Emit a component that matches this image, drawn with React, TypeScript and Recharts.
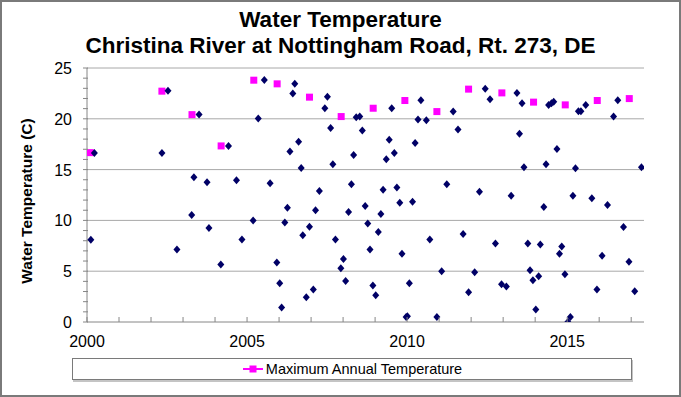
import React from 'react';
import { ScatterChart, Scatter, XAxis, YAxis, CartesianGrid, Legend } from 'recharts';

const FONT = '"Liberation Sans", Arial, sans-serif';

const titleLines = ['Water Temperature', 'Christina River at Nottingham Road, Rt. 273, DE'];
const yAxisTitle = 'Water Temperature (C)';
const maxSeriesName = 'Maximum Annual Temperature';

const xTicks = [2000, 2001, 2002, 2003, 2004, 2005, 2006, 2007, 2008, 2009, 2010, 2011, 2012, 2013, 2014, 2015, 2016, 2017];
const xLabelled = [2000, 2005, 2010, 2015];
const yTicks = [0, 1, 2, 3, 4, 5, 6, 7, 8, 9, 10, 11, 12, 13, 14, 15, 16, 17, 18, 19, 20, 21, 22, 23, 24, 25];
const yLabelled = [0, 5, 10, 15, 20, 25];
const yGrid = [5, 10, 15, 20, 25];

const maxX = [2000.1, 2002.34, 2003.28, 2004.19, 2005.21, 2005.94, 2006.95, 2007.94, 2008.94, 2009.93, 2010.93, 2011.92, 2012.96, 2013.95, 2014.94, 2015.94, 2016.94];
const maxY = [16.67, 22.72, 20.41, 17.33, 23.8, 23.44, 22.13, 20.22, 21.04, 21.8, 20.71, 22.92, 22.55, 21.64, 21.37, 21.8, 21.99];

const measX = [
  2000.23, 2000.12, 2002.53, 2002.34, 2002.81, 2003.5, 2003.34, 2003.27, 2004.42, 2003.75,
  2003.81, 2004.18, 2004.67, 2004.84, 2005.19, 2005.54, 2005.35, 2006.49, 2006.43, 2005.72,
  2005.93, 2006.02, 2006.08, 2006.18, 2006.26, 2006.34, 2006.61, 2006.69, 2006.74, 2006.95,
  2006.85, 2007.07, 2007.14, 2007.51, 2007.43, 2007.61, 2007.68, 2007.26, 2007.76, 2008.01,
  2007.93, 2008.08, 2008.41, 2008.52, 2008.6, 2008.33, 2008.26, 2008.17, 2008.69, 2008.77,
  2008.84, 2008.93, 2009.02, 2009.52, 2009.1, 2009.18, 2009.25, 2009.35, 2009.44, 2009.6,
  2009.68, 2009.77, 2009.84, 2010.07, 2009.97, 2010.01, 2010.43, 2010.34, 2010.6, 2010.25,
  2010.17, 2010.71, 2011.44, 2011.59, 2011.24, 2011.08, 2010.93, 2011.75, 2011.92, 2012.11,
  2012.26, 2012.44, 2012.59, 2012.76, 2012.95, 2013.1, 2013.25, 2013.43, 2013.59, 2013.51,
  2013.65, 2013.77, 2013.84, 2013.93, 2014.11, 2014.02, 2014.16, 2014.27, 2014.34, 2014.42,
  2014.51, 2014.58, 2014.68, 2014.76, 2014.83, 2014.93, 2015.02, 2015.1, 2015.18, 2015.26,
  2015.35, 2015.43, 2015.58, 2015.77, 2015.93, 2016.09, 2016.26, 2016.45, 2016.58, 2016.76,
  2016.93, 2017.11, 2017.32,
];
const measY = [
  16.64, 8.09, 22.75, 16.64, 7.14, 20.42, 14.24, 10.52, 17.33, 13.75,
  9.24, 5.66, 13.94, 8.12, 10.0, 23.83, 20.02, 23.44, 22.49, 13.65,
  5.86, 3.82, 1.42, 9.8, 11.24, 16.77, 17.75, 15.16, 8.55, 9.37,
  2.44, 3.2, 11.0, 22.16, 21.04, 19.1, 15.52, 12.89, 8.12, 6.21,
  5.3, 4.04, 20.16, 20.22, 18.84, 16.44, 13.55, 10.82, 11.41, 9.7,
  7.14, 3.59, 2.63, 21.04, 8.85, 10.62, 13.02, 16.02, 17.95, 16.64,
  13.25, 11.74, 6.71, 3.82, 0.5, 0.56, 21.83, 19.92, 19.86, 17.62,
  11.83, 8.12, 20.71, 18.94, 13.55, 5.0, 0.5, 8.65, 2.93, 4.9,
  12.82, 22.95, 21.93, 7.73, 3.72, 3.49, 12.43, 22.55, 21.54, 18.54,
  15.23, 7.73, 5.1, 4.11, 4.5, 1.22, 7.63, 11.31, 15.52, 21.37,
  21.54, 21.67, 17.03, 6.71, 7.43, 4.7, 0.0, 0.5, 12.43, 15.13,
  20.75, 20.75, 21.37, 12.17, 3.2, 6.51, 11.51, 20.22, 21.83, 9.34,
  5.92, 3.03, 15.23,
];

const measData = measX.map((x, i) => ({ x, y: measY[i] }));
const maxData = maxX.map((x, i) => ({ x, y: maxY[i] }));

const NAVY = '#000066';
const MAGENTA = '#FF00FF';
const AXIS = '#868686';
const GRID = '#a8a8a8';

const Diamond = (props: any) => {
  const { cx, cy } = props;
  if (cx == null || cy == null) return null;
  const w = 3.5;
  const h = 4;
  return <polygon points={`${cx},${cy - h} ${cx + w},${cy} ${cx},${cy + h} ${cx - w},${cy}`} fill={NAVY} />;
};

const Square = (props: any) => {
  const { cx, cy } = props;
  if (cx == null || cy == null) return null;
  const s = 3.5;
  return <rect x={cx - s} y={cy - s} width={s * 2} height={s * 2} fill={MAGENTA} />;
};

const XTick = (props: any) => {
  const { x, y, payload } = props;
  const v = payload.value;
  return (
    <g>
      <line x1={x} x2={x} y1={y} y2={y - 5} stroke={AXIS} strokeWidth={1} />
      {xLabelled.includes(v) && (
        <text x={x} y={y + 25} textAnchor="middle" fontSize={16} fontFamily={FONT} fill="#000">
          {v}
        </text>
      )}
    </g>
  );
};

const YTick = (props: any) => {
  const { x, y, payload } = props;
  const v = payload.value;
  return (
    <g>
      <line x1={x - 4} x2={x + 1} y1={y} y2={y} stroke={AXIS} strokeWidth={1} />
      {yLabelled.includes(v) && (
        <text x={x - 15} y={y + 6} textAnchor="end" fontSize={16} fontFamily={FONT} fill="#000">
          {v}
        </text>
      )}
    </g>
  );
};

const LegendBox = () => (
  <div
    style={{
      boxSizing: 'border-box',
      width: '100%',
      height: 22,
      border: '1px solid #7a7a7a',
      boxShadow: '1px 2px 0 #c4c4c4',
      background: '#fff',
      display: 'flex',
      alignItems: 'center',
      justifyContent: 'center',
      fontFamily: FONT,
      fontSize: 14.5,
      color: '#000',
    }}
  >
    <svg width={22} height={12} style={{ marginRight: 2 }}>
      <line x1={1} x2={21} y1={6} y2={6} stroke={MAGENTA} strokeWidth={2} />
      <rect x={7.5} y={2.5} width={7} height={7} fill={MAGENTA} />
    </svg>
    <span>{maxSeriesName}</span>
  </div>
);

export default function App() {
  return (
    <div
      style={{
        position: 'absolute',
        left: 0,
        top: 0,
        width: 681,
        height: 397,
        background: '#fff',
        fontFamily: FONT,
      }}
    >
      <ScatterChart
        width={681}
        height={397}
        margin={{ top: 68, right: 37, bottom: 17, left: 0 }}
      >
        <CartesianGrid horizontal vertical={false} horizontalValues={yGrid} stroke={GRID} />
        <XAxis
          type="number"
          dataKey="x"
          domain={[2000, 2017.4]}
          ticks={xTicks}
          interval={0}
          allowDataOverflow
          height={36}
          tickSize={0}
          tickMargin={0}
          tickLine={false}
          axisLine={{ stroke: AXIS }}
          tick={<XTick />}
        />
        <YAxis
          type="number"
          dataKey="y"
          domain={[0, 25]}
          ticks={yTicks}
          interval={0}
          allowDataOverflow
          width={87}
          tickSize={0}
          tickMargin={0}
          tickLine={false}
          axisLine={{ stroke: AXIS }}
          tick={<YTick />}
          label={{
            value: yAxisTitle,
            content: () => (
              <text
                x={32}
                y={201}
                transform="rotate(-90, 32, 201)"
                textAnchor="middle"
                fontSize={15.5}
                fontWeight="bold"
                fontFamily={FONT}
                fill="#000"
              >
                {yAxisTitle}
              </text>
            ),
          }}
        />
        <Legend
          verticalAlign="bottom"
          height={22}
          wrapperStyle={{ left: 72, width: 560, bottom: 17, height: 22 }}
          content={() => <LegendBox />}
        />
        <Scatter
          name={maxSeriesName}
          data={maxData}
          fill={MAGENTA}
          shape={<Square />}
          isAnimationActive={false}
        />
        <Scatter
          name="Measurements"
          data={measData}
          fill={NAVY}
          legendType="none"
          shape={<Diamond />}
          isAnimationActive={false}
        />
      </ScatterChart>
      {titleLines.map((t, i) => (
        <div
          key={t}
          style={{
            position: 'absolute',
            left: 0,
            width: 681,
            top: i === 0 ? 6 : 32,
            textAlign: 'center',
            fontSize: 22.5,
            fontWeight: 'bold',
            lineHeight: '27px',
            color: '#000',
            pointerEvents: 'none',
          }}
        >
          {t}
        </div>
      ))}
      <div
        style={{
          position: 'absolute',
          left: 0,
          top: 0,
          width: 681,
          height: 397,
          boxSizing: 'border-box',
          border: '2px solid #7a7a7a',
          pointerEvents: 'none',
        }}
      />
    </div>
  );
}
